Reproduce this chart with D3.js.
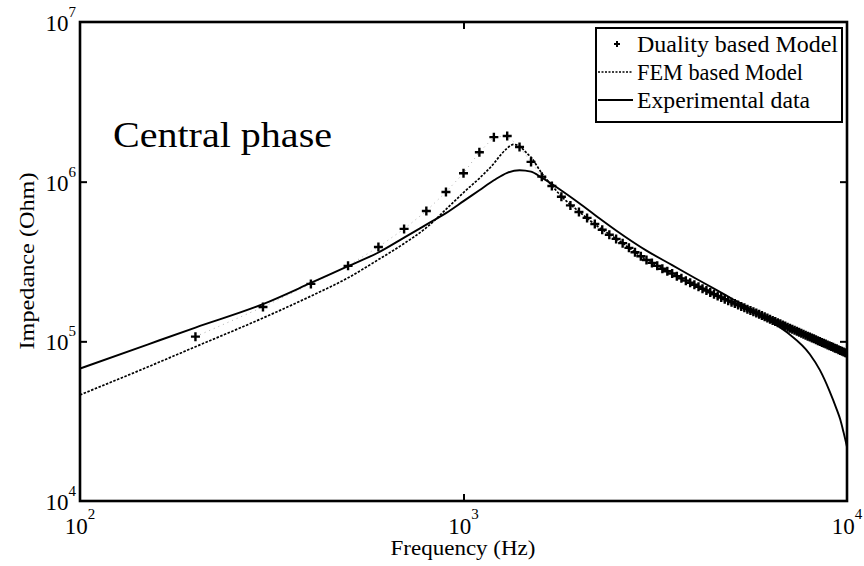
<!DOCTYPE html>
<html>
<head>
<meta charset="utf-8">
<script src="https://cdn.jsdelivr.net/npm/d3@7"></script>
<style>
  body { margin: 0; background: #fff; }
  svg text { font-family: "Liberation Serif", "Times New Roman", serif; fill: #000; }
</style>
</head>
<body>
<svg id="chart" width="864" height="566"></svg>
<script>
"use strict";

// Duality based model: points every 100 Hz
const dualityFreq = [
  200, 300, 400, 500, 600, 700, 800, 900, 1000,
  1100, 1200, 1300, 1400, 1500, 1600, 1700, 1800, 1900, 2000,
  2100, 2200, 2300, 2400, 2500, 2600, 2700, 2800, 2900, 3000,
  3100, 3200, 3300, 3400, 3500, 3600, 3700, 3800, 3900, 4000,
  4100, 4200, 4300, 4400, 4500, 4600, 4700, 4800, 4900, 5000,
  5100, 5200, 5300, 5400, 5500, 5600, 5700, 5800, 5900, 6000,
  6100, 6200, 6300, 6400, 6500, 6600, 6700, 6800, 6900, 7000,
  7100, 7200, 7300, 7400, 7500, 7600, 7700, 7800, 7900, 8000,
  8100, 8200, 8300, 8400, 8500, 8600, 8700, 8800, 8900, 9000,
  9100, 9200, 9300, 9400, 9500, 9600, 9700, 9800, 9900, 10000
];
const dualityZ = [
  1.07e5, 1.64e5, 2.29e5, 2.97e5, 3.90e5, 5.06e5, 6.55e5, 8.62e5, 1.13e6,
  1.53e6, 1.90e6, 1.93e6, 1.65e6, 1.33e6, 1.075e6, 9.4e5, 8.05e5, 7.1e5, 6.45e5,
  5.93e5, 5.43e5, 5.0e5, 4.65e5, 4.38e5, 4.12e5, 3.85e5, 3.61e5, 3.41e5, 3.23e5,
  3.10e5, 2.97e5, 2.85e5, 2.75e5, 2.66e5, 2.56e5, 2.48e5, 2.40e5, 2.33e5, 2.26e5,
  2.195e5, 2.135e5, 2.08e5, 2.025e5, 1.973e5, 1.926e5, 1.881e5, 1.838e5, 1.798e5, 1.76e5,
  1.724e5, 1.688e5, 1.655e5, 1.622e5, 1.591e5, 1.561e5, 1.532e5, 1.503e5, 1.476e5, 1.449e5,
  1.423e5, 1.398e5, 1.375e5, 1.352e5, 1.329e5, 1.308e5, 1.287e5, 1.266e5, 1.246e5, 1.227e5,
  1.208e5, 1.19e5, 1.173e5, 1.155e5, 1.14e5, 1.124e5, 1.108e5, 1.092e5, 1.078e5, 1.065e5,
  1.051e5, 1.037e5, 1.023e5, 1.01e5, 9.98e4, 9.85e4, 9.72e4, 9.61e4, 9.49e4, 9.39e4,
  9.27e4, 9.17e4, 9.06e4, 8.97e4, 8.86e4, 8.77e4, 8.67e4, 8.58e4, 8.48e4, 8.4e4
];

// FEM based model
const femFreq = [100, 150, 200, 300, 400, 500, 600, 700, 800, 900, 1000, 1100, 1200, 1250,
  1300, 1350, 1400, 1450, 1500, 1600, 1700, 1800, 2000, 2250, 2500, 3000, 3500, 4000,
  5000, 6000, 7000, 8000, 9000, 10000];
const femZ = [4.62e4, 6.9e4, 9.25e4, 1.40e5, 1.92e5, 2.50e5, 3.25e5, 4.10e5, 5.15e5, 6.70e5,
  8.55e5, 1.05e6, 1.30e6, 1.47e6, 1.62e6, 1.71e6, 1.67e6, 1.54e6, 1.42e6, 1.13e6, 9.45e5,
  8.1e5, 6.5e5, 5.2e5, 4.4e5, 3.24e5, 2.66e5, 2.27e5, 1.77e5, 1.46e5, 1.24e5, 1.065e5,
  9.3e4, 8.2e4];

// Experimental data
const expFreq = [100, 150, 200, 300, 400, 500, 600, 700, 800, 900, 1000, 1100, 1200, 1300,
  1400, 1500, 1600, 1800, 2000, 2250, 2500, 3000, 3500, 4000, 4500, 5000, 5500, 6000,
  7000, 8000, 8500, 9000, 9400, 9600, 9800, 10000];
const expZ = [6.75e4, 9.55e4, 1.22e5, 1.71e5, 2.32e5, 2.96e5, 3.6e5, 4.46e5, 5.38e5, 6.35e5,
  7.55e5, 8.84e5, 1.02e6, 1.137e6, 1.18e6, 1.155e6, 1.06e6, 8.8e5, 7.35e5, 5.95e5, 4.95e5,
  3.7e5, 3.0e5, 2.5e5, 2.14e5, 1.855e5, 1.63e5, 1.44e5, 1.13e5, 8.3e4, 6.6e4, 4.9e4,
  3.75e4, 3.25e4, 2.68e4, 2.18e4];

const xTickExps = [2, 3, 4];
const yTickExps = [4, 5, 6, 7];
const legendLabels = ["Duality based Model", "FEM based Model", "Experimental data"];

const svg = d3.select("#chart");
const plotLeft = 80, plotRight = 847, plotTop = 22, plotBottom = 501;

const x = d3.scaleLog().domain([1e2, 1e4]).range([plotLeft, plotRight]);
const y = d3.scaleLog().domain([1e4, 1e7]).range([plotBottom, plotTop]);

svg.append("defs").append("clipPath").attr("id", "plotclip")
  .append("rect")
  .attr("x", plotLeft).attr("y", plotTop)
  .attr("width", plotRight - plotLeft).attr("height", plotBottom - plotTop);

const plot = svg.append("g").attr("clip-path", "url(#plotclip)");

const line = d3.line()
  .x(d => x(d[0]))
  .y(d => y(d[1]))
  .curve(d3.curveMonotoneX);

const dualityPts = dualityFreq.map((f, i) => [f, dualityZ[i]]);
const femPts = femFreq.map((f, i) => [f, femZ[i]]);
const expPts = expFreq.map((f, i) => [f, expZ[i]]);

// faint dotted line joining the duality markers
plot.append("path")
  .attr("d", d3.line().x(d => x(d[0])).y(d => y(d[1]))(dualityPts))
  .attr("fill", "none")
  .attr("stroke", "#999")
  .attr("stroke-width", 0.8)
  .attr("stroke-dasharray", "1,4");

plot.append("path")
  .attr("d", line(expPts))
  .attr("fill", "none")
  .attr("stroke", "#000")
  .attr("stroke-width", 1.9);

plot.append("path")
  .attr("d", line(femPts))
  .attr("fill", "none")
  .attr("stroke", "#000")
  .attr("stroke-width", 1.7)
  .attr("stroke-dasharray", "2.5,1.5");

plot.selectAll(".plus")
  .data(dualityPts)
  .enter()
  .append("path")
  .attr("class", "plus")
  .attr("transform", d => "translate(" + x(d[0]) + "," + y(d[1]) + ")")
  .attr("d", "M-4.5,0H4.5M0,-4.5V4.5")
  .attr("stroke", "#000")
  .attr("stroke-width", 2.4);

// axes (ticks only, pointing inward)
function styleAxis(g) {
  g.select(".domain").remove();
  g.selectAll(".tick line").attr("stroke", "#000").attr("stroke-width", 2);
}
svg.append("g").attr("transform", "translate(0," + plotBottom + ")")
  .call(d3.axisBottom(x).tickValues([1e3]).tickSize(-7).tickSizeOuter(0).tickFormat(""))
  .call(styleAxis);
svg.append("g").attr("transform", "translate(0," + plotTop + ")")
  .call(d3.axisTop(x).tickValues([1e3]).tickSize(-7).tickSizeOuter(0).tickFormat(""))
  .call(styleAxis);
svg.append("g").attr("transform", "translate(" + plotLeft + ",0)")
  .call(d3.axisLeft(y).tickValues([1e5, 1e6]).tickSize(-7).tickSizeOuter(0).tickFormat(""))
  .call(styleAxis);
svg.append("g").attr("transform", "translate(" + plotRight + ",0)")
  .call(d3.axisRight(y).tickValues([1e5, 1e6]).tickSize(-7).tickSizeOuter(0).tickFormat(""))
  .call(styleAxis);

// frame
svg.append("rect")
  .attr("x", plotLeft).attr("y", plotTop)
  .attr("width", plotRight - plotLeft).attr("height", plotBottom - plotTop)
  .attr("fill", "none")
  .attr("stroke", "#000")
  .attr("stroke-width", 2.6);

// tick labels: "10" with a raised exponent in one text element
function powerLabel(sel, e, dy) {
  sel.append("tspan").attr("font-size", 23).text("10");
  sel.append("tspan").attr("font-size", 15).attr("dy", dy).text(e);
}
xTickExps.forEach(e => {
  const t = svg.append("text")
    .attr("x", x(Math.pow(10, e))).attr("y", 534)
    .attr("text-anchor", "middle");
  powerLabel(t, e, -15);
});
yTickExps.forEach(e => {
  const t = svg.append("text")
    .attr("x", 76).attr("y", y(Math.pow(10, e)) + 9)
    .attr("text-anchor", "end");
  powerLabel(t, e, -14);
});

// axis titles
svg.append("text")
  .attr("x", 463).attr("y", 555)
  .attr("text-anchor", "middle")
  .attr("font-size", 20)
  .attr("textLength", 145).attr("lengthAdjust", "spacingAndGlyphs")
  .text("Frequency (Hz)");

svg.append("text")
  .attr("transform", "translate(34,261) rotate(-90)")
  .attr("text-anchor", "middle")
  .attr("font-size", 20)
  .attr("textLength", 177).attr("lengthAdjust", "spacingAndGlyphs")
  .text("Impedance (Ohm)");

svg.append("text")
  .attr("x", 113).attr("y", 147)
  .attr("font-size", 36)
  .attr("textLength", 219).attr("lengthAdjust", "spacingAndGlyphs")
  .text("Central phase");

// legend
const legend = svg.append("g");
legend.append("rect")
  .attr("x", 596).attr("y", 28).attr("width", 246).attr("height", 94)
  .attr("fill", "#fff").attr("stroke", "#000").attr("stroke-width", 2);

const legendWidths = [201, 166, 173];
const rowY = [44, 72, 100];
legendLabels.forEach((label, i) => {
  legend.append("text")
    .attr("x", 637).attr("y", rowY[i] + 8)
    .attr("font-size", 23)
    .attr("textLength", legendWidths[i]).attr("lengthAdjust", "spacingAndGlyphs")
    .text(label);
});
legend.append("path")
  .attr("transform", "translate(617," + rowY[0] + ")")
  .attr("d", "M-3,0H3M0,-3V3")
  .attr("stroke", "#000").attr("stroke-width", 2);
legend.append("line")
  .attr("x1", 598).attr("x2", 633).attr("y1", rowY[1]).attr("y2", rowY[1])
  .attr("stroke", "#000").attr("stroke-width", 1.4).attr("stroke-dasharray", "2,1.5");
legend.append("line")
  .attr("x1", 598).attr("x2", 633).attr("y1", rowY[2]).attr("y2", rowY[2])
  .attr("stroke", "#000").attr("stroke-width", 1.8);
</script>
</body>
</html>
